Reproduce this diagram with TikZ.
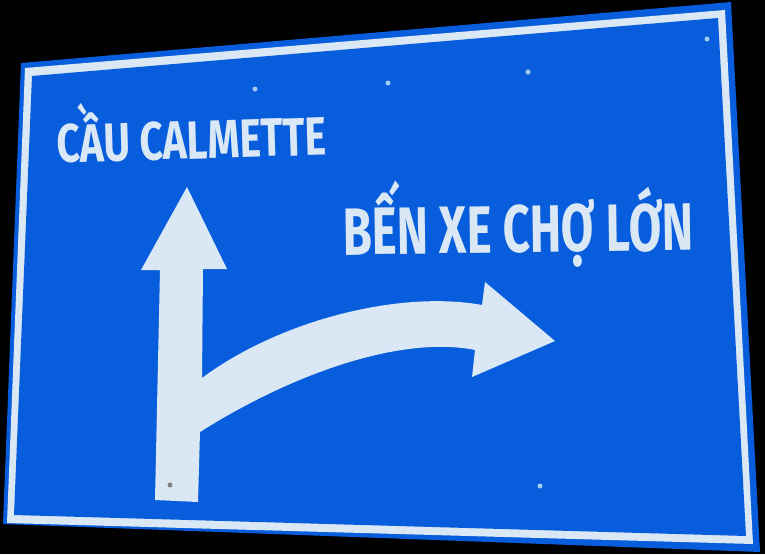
\documentclass[tikz,border=0pt]{standalone}
\usepackage{fontspec}
\setmainfont{Fira Sans}
\usetikzlibrary{calc,positioning}

\definecolor{signblue}{RGB}{8,93,220}
\definecolor{signwhite}{RGB}{218,232,246}
\definecolor{screw}{RGB}{160,205,240}

\begin{document}
\begin{tikzpicture}[x=1pt,y=-1pt,
  board/.style={fill=signblue},
  stripe/.style={fill=signwhite},
  arrowfill/.style={fill=signwhite},
  signtext/.style={text=signwhite,inner sep=0,font=\bfseries},
  screwdot/.style={fill=screw,circle,inner sep=0,minimum size=5pt}]

% Background
\fill[black] (0,0) rectangle (765,554);
\useasboundingbox (0,0) rectangle (765,554);

% Corners
\coordinate (board-tl) at (21,63);
\coordinate (board-tr) at (731,2);
\coordinate (board-br) at (760,552);
\coordinate (board-bl) at (3,524);
\coordinate (stripe-tl) at (25,68);
\coordinate (stripe-tr) at (725,10);
\coordinate (stripe-br) at (753,544);
\coordinate (stripe-bl) at (7,523);
\coordinate (inner-tl) at (32,76);
\coordinate (inner-tr) at (718,18);
\coordinate (inner-br) at (746,536);
\coordinate (inner-bl) at (14,515);

% The board
\path[board] (board-tl) -- (board-tr) -- (board-br) -- (board-bl) -- cycle;
\path[stripe] (stripe-tl) -- (stripe-tr) -- (stripe-br) -- (stripe-bl) -- cycle;
\path[board] (inner-tl) -- (inner-tr) -- (inner-br) -- (inner-bl) -- cycle;

% The arrows
\coordinate (shaft-bl) at (155,500);
\coordinate (shaft-br) at (198,502);
\coordinate (shaft-tl) at (160,270);
\coordinate (shaft-tr) at (203,269);
\coordinate (head-l) at (141,270);
\coordinate (head-r) at (227,269);
\coordinate (up-tip) at (187,187);
\coordinate (fork-top) at (202,378);
\coordinate (fork-bot) at (200,432);
\coordinate (bend-top) at (482,305);
\coordinate (bend-bot) at (475,350);
\coordinate (barb-top) at (485,282);
\coordinate (barb-bot) at (472,377);
\coordinate (right-tip) at (555,341);

\path[arrowfill] (shaft-bl) -- (shaft-tl) -- (head-l) -- (up-tip) -- (head-r) -- (shaft-tr)
  -- (fork-top) .. controls (280,320) and (400,290) .. (bend-top)
  -- (barb-top) -- (right-tip) -- (barb-bot) -- (bend-bot)
  .. controls (400,335) and (290,375) .. (fork-bot) -- (shaft-br) -- cycle;

% Screws
\node[screwdot] (screw1) at (255,89) {};
\node[screwdot] (screw2) at (388,83) {};
\node[screwdot] (screw3) at (528,72) {};
\node[screwdot] (screw4) at (707,39) {};
\node[screwdot] (screw5) at (540,486) {};
\node[screwdot,fill=black!50] (screw6) at (170,485) {};

% Labels
\node[signtext,anchor=base west,rotate=1.7] (cau) at (57,163)
  {\scalebox{0.755}[1]{\fontsize{54}{60}\selectfont CẦU CALMETTE}};
\node[signtext,anchor=base west,rotate=0.8] (ben-xe) at (343,255)
  {\scalebox{0.705}[1]{\fontsize{67}{72}\selectfont BẾN XE CHỢ LỚN}};

\end{tikzpicture}
\end{document}
